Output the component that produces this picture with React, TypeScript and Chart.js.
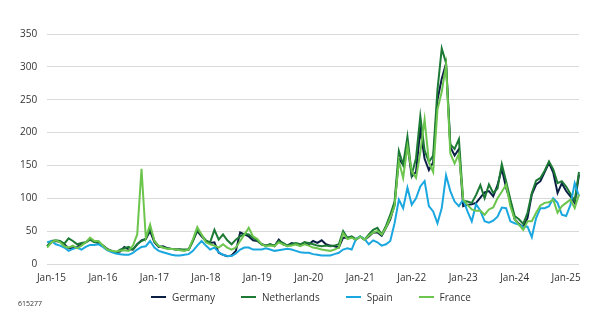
import React, { useEffect, useRef } from "react";
import { Chart, registerables } from "chart.js";

Chart.register(...registerables);

const monthNames = ["Jan", "Feb", "Mar", "Apr", "May", "Jun", "Jul", "Aug", "Sep", "Oct", "Nov", "Dec"];
const years = ["15", "16", "17", "18", "19", "20", "21", "22", "23", "24", "25"];
const categories: string[] = ["Dec-14"];
years.forEach((y) => monthNames.forEach((m) => categories.push(`${m}-${y}`)));
categories.length = 125; // Dec-14 .. Apr-25

const germany = [
  27, 33, 35, 34, 30, 24, 24, 26, 30, 33, 38, 34,
  32, 28, 23, 20, 18, 19, 26, 22, 22, 30, 36, 38,
  50, 33, 26, 27, 24, 23, 22, 22, 21, 22, 36, 50, 42,
  35, 32, 33, 17, 14, 12, 13, 20, 48, 45, 42, 36,
  35, 30, 28, 30, 27, 37, 30, 28, 32, 30, 28, 33,
  30, 35, 32, 36, 30, 28, 27, 25, 40, 40, 41, 37,
  42, 37, 42, 48, 48, 43, 55, 68, 90, 160, 151, 182,
  133, 140, 205, 160, 143, 155, 250, 282, 305, 178, 165, 175,
  88, 90, 91, 93, 101, 109, 111, 103, 120, 145, 116, 95, 68,
  61, 56, 70, 106, 121, 126, 140, 154, 139, 108, 123, 111,
  103, 93, 136,
];

const netherlands = [
  27, 35, 36, 35, 31, 39, 35, 30, 32, 33, 37, 33,
  33, 28, 22, 20, 17, 22, 24, 26, 22, 30, 35, 38,
  55, 35, 27, 25, 24, 23, 22, 22, 22, 22, 35, 52, 44,
  36, 33, 52, 37, 45, 36, 30, 37, 42, 46, 45, 40,
  36, 30, 28, 30, 28, 35, 32, 28, 30, 32, 30, 33,
  32, 30, 28, 27, 28, 27, 28, 30, 50, 40, 42, 38,
  42, 37, 45, 52, 55, 45, 58, 75, 95, 172, 151, 194,
  136, 161, 225, 173, 155, 165, 265, 328, 306, 182, 175, 190,
  96, 95, 93, 105, 120, 100, 121, 108, 115, 152, 126, 98, 73,
  68, 61, 78, 108, 127, 131, 142, 156, 144, 123, 126, 118,
  107, 96, 140,
];

const spain = [
  33, 35, 30, 28, 25, 20, 23, 25, 22, 26, 29, 29,
  30, 26, 21, 18, 16, 15, 14, 14, 17, 22, 26, 27,
  35, 25, 20, 18, 16, 14, 13, 13, 14, 15, 20, 28, 35,
  28, 22, 25, 18, 14, 12, 12, 16, 22, 25, 25, 22,
  22, 22, 24, 22, 20, 21, 22, 23, 22, 20, 18, 17,
  17, 15, 14, 13, 13, 13, 15, 17, 22, 24, 22, 38,
  42, 38, 30, 36, 33, 28, 30, 35, 62, 98, 85, 116,
  90, 100, 118, 126, 88, 80, 62, 85, 135, 111, 95, 88,
  98, 80, 65, 91, 81, 65, 63, 66, 72, 86, 85, 65, 62,
  60, 56, 57, 41, 70, 85, 85, 88, 100, 93, 75, 73,
  90, 123, 103,
];

const france = [
  25, 33, 36, 33, 27, 25, 28, 24, 28, 33, 40, 35,
  35, 28, 22, 20, 19, 20, 21, 20, 28, 45, 145, 40,
  60, 35, 27, 25, 23, 23, 22, 21, 20, 22, 38, 56, 45,
  33, 30, 28, 25, 30, 25, 22, 25, 35, 45, 55, 42,
  38, 30, 27, 28, 27, 33, 30, 27, 28, 30, 27, 30,
  28, 25, 24, 22, 21, 20, 22, 25, 47, 38, 40, 37,
  42, 37, 43, 48, 50, 45, 55, 70, 88, 157, 131, 179,
  141, 131, 170, 220, 155, 140, 235, 262, 303, 168, 153, 168,
  98, 90, 83, 81, 81, 75, 83, 86, 100, 110, 121, 88, 68,
  60, 52, 65, 65, 78, 89, 93, 94, 98, 78, 88, 93,
  98, 85, 106,
];

const seriesNames = ["Germany", "Netherlands", "Spain", "France"];
const seriesColors = ["#0b1f45", "#1c7a35", "#1aa7e0", "#6cc54c"];
const seriesOrder = [3, 2, 1, 0];
const yTicks = { min: 0, max: 350, step: 50 };
const FONT = "'Open Sans', sans-serif";

export default function App() {
  const ref = useRef<HTMLCanvasElement>(null);

  useEffect(() => {
    const values = [germany, netherlands, spain, france];
    const chart = new Chart(ref.current!, {
      type: "line",
      data: {
        labels: categories,
        datasets: values.map((v, i) => ({
          label: seriesNames[i],
          data: v,
          borderColor: seriesColors[i],
          backgroundColor: seriesColors[i],
          borderWidth: 2,
          pointRadius: 0,
          tension: 0,
          order: seriesOrder[i],
        })),
      },
      options: {
        responsive: false,
        animation: false,
        devicePixelRatio: 1,
        layout: { padding: { left: 10, right: 22, top: 34, bottom: 20 } },
        plugins: {
          tooltip: { enabled: false },
          legend: { display: false },
        },
        scales: {
          x: {
            grid: { display: false, drawTicks: false },
            border: { display: false },
            ticks: {
              autoSkip: false,
              maxRotation: 0,
              padding: 8,
              color: "#333",
              font: { family: FONT, size: 10 },
              callback: (_v: any, idx: number) =>
                categories[idx] && categories[idx].startsWith("Jan") ? categories[idx] : null,
            },
          },
          y: {
            min: yTicks.min,
            max: yTicks.max,
            border: { display: false },
            grid: { color: "#d9d9d9", lineWidth: 1, drawTicks: false },
            ticks: {
              stepSize: yTicks.step,
              padding: 10,
              color: "#333",
              font: { family: FONT, size: 10 },
            },
          },
        },
      },
    });
    return () => chart.destroy();
  }, []);

  return (
    <div style={{ position: "fixed", left: 0, top: 0, width: 601, height: 312, background: "#fff" }}>
      <canvas ref={ref} width={601} height={312} style={{ display: "block" }} />
      <div
        style={{
          position: "absolute",
          left: 44,
          width: 534,
          top: 290,
          height: 14,
          display: "flex",
          justifyContent: "center",
          alignItems: "center",
          gap: 26,
          fontFamily: FONT,
          fontSize: 10,
          color: "#333",
        }}
      >
        {seriesNames.map((n, i) => (
          <div key={n} style={{ display: "flex", alignItems: "center" }}>
            <span style={{ display: "inline-block", width: 15, height: 2, background: seriesColors[i], marginRight: 6 }} />
            <span style={{ lineHeight: "14px" }}>{n}</span>
          </div>
        ))}
      </div>
      <span
        style={{
          position: "absolute",
          left: 18,
          top: 299,
          fontFamily: FONT,
          fontSize: 7,
          lineHeight: "10px",
          color: "#333",
        }}
      >
        615277
      </span>
    </div>
  );
}
